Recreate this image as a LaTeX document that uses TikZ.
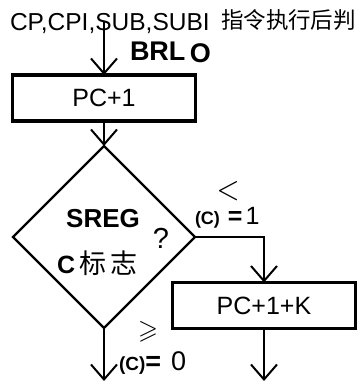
\documentclass[tikz,border=0pt]{standalone}
\usepackage{amssymb}
\usepackage{graphicx}
\usepackage{fontspec}
\setmainfont{Liberation Sans}
\newfontfamily\cjk{Noto Sans CJK SC}
\usetikzlibrary{arrows.meta,shapes.geometric}

\begin{document}
\begin{tikzpicture}[x=1pt,y=-1pt,
  flow/.style={line width=2.6pt,
    -{Straight Barb[length=15pt,width=26pt,line width=2pt]}},
  procbox/.style={draw, line width=3.6pt, inner sep=0pt, outer sep=0pt,
    minimum height=46pt, font=\fontsize{25}{25}\selectfont},
  txt/.style={inner sep=0pt, outer sep=0pt}]
\useasboundingbox (0,0) rectangle (364,381);

% heading
\node[txt, anchor=base west, font=\fontsize{24.5}{25}\selectfont] (hdr) at (10,30) {CP,CPI,SUB,SUBI};
\node[txt, anchor=base west, font=\cjk\fontsize{22.5}{23}\selectfont] (hdrcn) at (221,28) {指令执行后判};
\node[txt, anchor=base west, font=\bfseries\fontsize{27}{27}\selectfont] (brlo) at (130,60) {BRL\,\raisebox{-2pt}{O}};
\coordinate (start) at (104,21);

% boxes and decision
\node[procbox, minimum width=183pt] (pc1) at (104,98) {PC+1};
\node[draw, diamond, line width=2.4pt, inner sep=0pt, outer sep=0pt,
      minimum width=182pt, minimum height=182pt] (dec) at (104,237) {};
\node[procbox, minimum width=183pt] (pck) at (264,305.5) {PC+1+K};

% text inside the decision
\node[txt, font=\bfseries\fontsize{26}{26}\selectfont] (sreg) at (103,219) {SREG};
\node[txt, font=\fontsize{29}{29}\selectfont] (qm) at (161,238) {?};
\node[txt, anchor=base west] (cflag) at (57,273)
  {{\bfseries\fontsize{25}{25}\selectfont C}{\cjk\fontsize{27}{27}\selectfont\,标\hspace{4pt}志}};

% branch labels
\node[txt] (lt) at (228,191) {\resizebox{23pt}{18pt}{$<$}};
\node[txt, anchor=base west] (c1) at (195,224)
  {{\bfseries\fontsize{18}{18}\selectfont (C)}\hspace{8pt}{\bfseries\fontsize{25}{25}\selectfont =}\hspace{3pt}{\fontsize{25}{25}\selectfont 1}};
\node[txt] (ge) at (148,332) {\resizebox{20pt}{17pt}{$\geqslant$}};
\node[txt, anchor=base west] (c0) at (119,370)
  {{\bfseries\fontsize{19}{19}\selectfont (C)}{\bfseries\fontsize{27}{27}\selectfont =}\hspace{10pt}{\fontsize{27}{27}\selectfont 0}};

% free ends at the bottom
\coordinate (endL) at (104,381);
\coordinate (endR) at (264,381);

% connectors
\draw[flow] (start) -- (pc1.north);
\draw[flow] (pc1.south) -- (dec.north);
\draw[flow] (dec.east) -| (pck.north);
\draw[flow] (dec.south) -- (endL);
\draw[flow] (pck.south) -- (endR);
\end{tikzpicture}
\end{document}
